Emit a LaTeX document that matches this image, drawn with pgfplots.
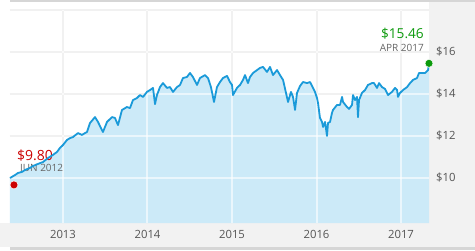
\documentclass[border=0pt]{standalone}
\usepackage{pgfplots}
\usepackage{pgfplotstable}
\pgfplotsset{compat=1.18}
\usepackage{fontspec}
\setmainfont{Open Sans}
\definecolor{linec}{HTML}{1A9AD9}
\definecolor{fillc}{HTML}{CCEAF8}
\definecolor{panel}{HTML}{F2F2F2}
\definecolor{topline}{HTML}{D6D6D6}
\definecolor{gridc}{HTML}{DEDEDE}
\definecolor{lab}{HTML}{555555}
\definecolor{sublab}{HTML}{666666}
\definecolor{redc}{HTML}{CC0000}
\definecolor{greenc}{HTML}{0C9A0C}
\pgfplotstableread{
x y
2012.373 10.00
2012.432 10.14
2012.468 10.24
2012.515 10.29
2012.550 10.38
2012.609 10.48
2012.645 10.57
2012.704 10.67
2012.763 10.76
2012.822 10.95
2012.882 11.10
2012.929 11.24
2012.964 11.43
2013.000 11.57
2013.047 11.81
2013.083 11.90
2013.118 11.95
2013.178 12.14
2013.225 12.05
2013.260 12.14
2013.284 12.19
2013.320 12.62
2013.379 12.90
2013.414 12.67
2013.473 12.19
2013.521 12.67
2013.580 12.90
2013.615 12.86
2013.651 12.52
2013.698 13.24
2013.757 13.38
2013.793 13.33
2013.828 13.71
2013.876 13.81
2013.911 13.95
2013.947 13.86
2013.994 14.10
2014.030 14.19
2014.065 14.29
2014.089 13.52
2014.112 13.95
2014.148 14.33
2014.183 14.52
2014.231 14.29
2014.266 14.33
2014.302 14.10
2014.349 14.33
2014.385 14.43
2014.420 14.76
2014.467 14.81
2014.503 15.00
2014.538 14.81
2014.586 14.43
2014.621 14.76
2014.680 14.90
2014.716 14.76
2014.751 14.33
2014.787 13.62
2014.822 14.33
2014.858 14.57
2014.893 14.76
2014.941 14.86
2014.976 14.57
2015.000 14.43
2015.012 13.95
2015.059 14.29
2015.095 14.43
2015.130 14.67
2015.154 14.90
2015.189 14.52
2015.213 14.81
2015.249 15.00
2015.296 15.14
2015.331 15.24
2015.367 15.29
2015.414 15.05
2015.450 15.29
2015.485 14.90
2015.533 15.14
2015.568 14.90
2015.604 14.67
2015.639 14.05
2015.663 13.62
2015.698 14.10
2015.722 13.86
2015.746 13.24
2015.769 14.05
2015.805 14.38
2015.840 14.57
2015.888 14.52
2015.923 14.57
2015.959 14.29
2015.982 14.10
2016.006 13.81
2016.018 13.57
2016.041 12.86
2016.065 12.67
2016.077 12.43
2016.101 12.67
2016.124 12.00
2016.136 12.62
2016.160 12.67
2016.183 13.10
2016.195 13.24
2016.243 13.48
2016.278 13.48
2016.302 13.86
2016.314 13.62
2016.361 13.38
2016.385 13.29
2016.420 13.48
2016.432 13.95
2016.456 13.71
2016.479 13.86
2016.491 12.90
2016.503 13.71
2016.538 14.05
2016.574 14.19
2016.609 14.43
2016.657 14.52
2016.680 14.52
2016.716 14.29
2016.740 14.52
2016.775 14.33
2016.811 14.24
2016.846 13.95
2016.893 14.10
2016.929 14.29
2016.953 14.19
2016.964 13.86
2016.988 14.05
2017.024 14.19
2017.071 14.33
2017.107 14.52
2017.142 14.67
2017.189 14.76
2017.213 15.00
2017.249 15.00
2017.284 15.00
2017.320 15.14
2017.331 15.46
}\price
\begin{document}
\begin{tikzpicture}[x=1pt,y=1pt]
\fill[white] (0,0) rectangle (475,250);
\fill[panel] (0,3) rectangle (475,27);
\fill[topline] (10,0) rectangle (475,3);
\fill[panel] (429,3) rectangle (475,248);
\fill[topline] (10,248) rectangle (475,250);
\begin{axis}[
  at={(10pt,27pt)}, anchor=south west,
  scale only axis, width=419pt, height=213pt,
  xmin=2012.373, xmax=2017.331, ymin=7.857, ymax=18,
  clip=false,
  axis line style={draw=none},
  major tick length=0pt,
  xtick={2013,2014,2015,2016,2017},
  xticklabels={2013,2014,2015,2016,2017},
  ytick={10,12,14,16,18},
  yticklabels={\$10,\$12,\$14,\$16,},
  grid=major,
  grid style={gridc, line width=2pt},
  yticklabel pos=right,
  yticklabel style={anchor=west, inner sep=0pt, xshift=7pt, font=\fontsize{11.3}{13}\selectfont, text=lab},
  xticklabel style={anchor=center, inner sep=0pt, yshift=-11pt, font=\fontsize{11.3}{13}\selectfont, text=lab},
  /pgf/number format/assume math mode=true,
]
\addplot[fill=fillc, draw=none] table[x=x,y=y] {\price} \closedcycle;
\addplot[white, opacity=0.6, line width=2pt, forget plot] coordinates {(2013,7.857) (2013,18)};
\addplot[white, opacity=0.6, line width=2pt, forget plot] coordinates {(2014,7.857) (2014,18)};
\addplot[white, opacity=0.6, line width=2pt, forget plot] coordinates {(2015,7.857) (2015,18)};
\addplot[white, opacity=0.6, line width=2pt, forget plot] coordinates {(2016,7.857) (2016,18)};
\addplot[white, opacity=0.6, line width=2pt, forget plot] coordinates {(2017,7.857) (2017,18)};
\addplot[white, opacity=0.6, line width=2pt, forget plot] coordinates {(2012.373,10) (2017.331,10)};
\addplot[white, opacity=0.6, line width=2pt, forget plot] coordinates {(2012.373,12) (2017.331,12)};
\addplot[white, opacity=0.6, line width=2pt, forget plot] coordinates {(2012.373,14) (2017.331,14)};
\addplot[white, opacity=0.6, line width=2pt, forget plot] coordinates {(2012.373,16) (2017.331,16)};
\addplot[white, opacity=0.6, line width=2pt, forget plot] coordinates {(2012.373,18) (2017.331,18)};
\node[anchor=west, inner sep=0pt, text=redc, font=\fontsize{14}{16}\selectfont] at (axis cs:2012.456,11.05) {\$9.80};
\node[anchor=west, inner sep=0pt, text=sublab, font=\fontsize{10}{12}\selectfont] at (axis cs:2012.491,10.43) {JUN 2012};
\node[anchor=east, inner sep=0pt, text=greenc, font=\fontsize{13.7}{16}\selectfont] at (axis cs:2017.272,16.88) {\$15.46};
\node[anchor=east, inner sep=0pt, text=sublab, font=\fontsize{10}{12}\selectfont] at (axis cs:2017.272,16.21) {APR 2017};
\addplot[linec, line width=1.8pt, line join=round] table[x=x,y=y] {\price};
\addplot[only marks, mark=*, mark size=4pt, mark options={fill=redc, draw=white, line width=0.5pt}] coordinates {(2012.42,9.67)};
\addplot[only marks, mark=*, mark size=4pt, mark options={fill=greenc, draw=white, line width=0.5pt}] coordinates {(2017.331,15.46)};
\end{axis}
\end{tikzpicture}
\end{document}
